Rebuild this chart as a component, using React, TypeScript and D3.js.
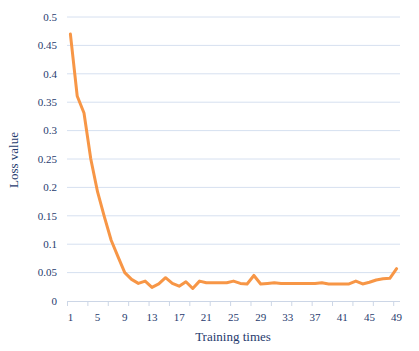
import React, { useEffect, useRef } from "react";
import * as d3 from "d3";

// training iterations 1..49
const epochs = d3.range(1, 50);

const lossValues = [
  0.47, 0.361, 0.331, 0.25, 0.192, 0.148, 0.107, 0.078, 0.05, 0.038,
  0.031, 0.035, 0.024, 0.03, 0.041, 0.031, 0.026, 0.034, 0.022, 0.035,
  0.032, 0.032, 0.032, 0.032, 0.035, 0.031, 0.03, 0.045, 0.03, 0.031,
  0.032, 0.031, 0.031, 0.031, 0.031, 0.031, 0.031, 0.032, 0.03, 0.03,
  0.03, 0.03, 0.035, 0.03, 0.033, 0.037, 0.039, 0.04, 0.057,
];

const yTicks = [0, 0.05, 0.1, 0.15, 0.2, 0.25, 0.3, 0.35, 0.4, 0.45, 0.5];

export default function App() {
  const svgRef = useRef<SVGSVGElement | null>(null);

  useEffect(() => {
    const svg = d3.select(svgRef.current);
    svg.selectAll("*").remove();

    const margin = { top: 17, right: 19, bottom: 50, left: 67 };
    const width = 419 - margin.left - margin.right;
    const height = 351 - margin.top - margin.bottom;
    const textColor = "#1f3b6e";
    const font = "'Liberation Serif', 'Times New Roman', serif";

    const x = d3.scaleBand<number>().domain(epochs).range([0, width]).padding(0);
    const y = d3.scaleLinear().domain([0, 0.5]).range([height, 0]);

    const g = svg
      .append("g")
      .attr("transform", `translate(${margin.left},${margin.top})`);

    // gridlines
    g.selectAll(".grid")
      .data(yTicks.slice(1))
      .enter()
      .append("line")
      .attr("x1", 0)
      .attr("x2", width)
      .attr("y1", (d) => y(d))
      .attr("y2", (d) => y(d))
      .attr("stroke", "#d6e0f0")
      .attr("stroke-width", 1);

    // y labels
    g.selectAll(".ylab")
      .data(yTicks)
      .enter()
      .append("text")
      .attr("x", -10)
      .attr("y", (d) => y(d))
      .attr("dy", "0.35em")
      .attr("text-anchor", "end")
      .attr("font-family", font)
      .attr("font-size", 11)
      .attr("fill", textColor)
      .text((d) => String(d));

    // x axis line and ticks every 3 categories
    g.append("line")
      .attr("x1", 0)
      .attr("x2", width)
      .attr("y1", height + 0.5)
      .attr("y2", height + 0.5)
      .attr("stroke", "#ccd6e6");

    const tickIdx = d3.range(0, epochs.length, 3);
    g.selectAll(".xtick")
      .data(tickIdx)
      .enter()
      .append("line")
      .attr("x1", (i) => x(epochs[i])! + 0.5)
      .attr("x2", (i) => x(epochs[i])! + 0.5)
      .attr("y1", height)
      .attr("y2", height + 5)
      .attr("stroke", "#ccd6e6");

    // x labels every 4 categories
    g.selectAll(".xlab")
      .data(epochs.filter((d) => (d - 1) % 4 === 0))
      .enter()
      .append("text")
      .attr("x", (d) => x(d)! + x.bandwidth() / 2)
      .attr("y", height + 16)
      .attr("dy", "0.35em")
      .attr("text-anchor", "middle")
      .attr("font-family", font)
      .attr("font-size", 11)
      .attr("fill", textColor)
      .text((d) => String(d));

    // loss line
    const line = d3
      .line<number>()
      .x((_, i) => x(epochs[i])! + x.bandwidth() / 2)
      .y((d) => y(d));

    g.append("path")
      .datum(lossValues)
      .attr("d", line)
      .attr("fill", "none")
      .attr("stroke", "#f79646")
      .attr("stroke-width", 3)
      .attr("stroke-linejoin", "round")
      .attr("stroke-linecap", "round");

    // axis titles
    svg
      .append("text")
      .attr("transform", `translate(18,160) rotate(-90)`)
      .attr("text-anchor", "middle")
      .attr("font-family", font)
      .attr("font-size", 13)
      .attr("fill", textColor)
      .text("Loss value");

    svg
      .append("text")
      .attr("x", 233)
      .attr("y", 341)
      .attr("text-anchor", "middle")
      .attr("font-family", font)
      .attr("font-size", 13)
      .attr("fill", textColor)
      .text("Training times");
  }, []);

  return (
    <svg
      ref={svgRef}
      width={419}
      height={351}
      style={{ position: "absolute", left: 0, top: 0, background: "#fff" }}
    />
  );
}
